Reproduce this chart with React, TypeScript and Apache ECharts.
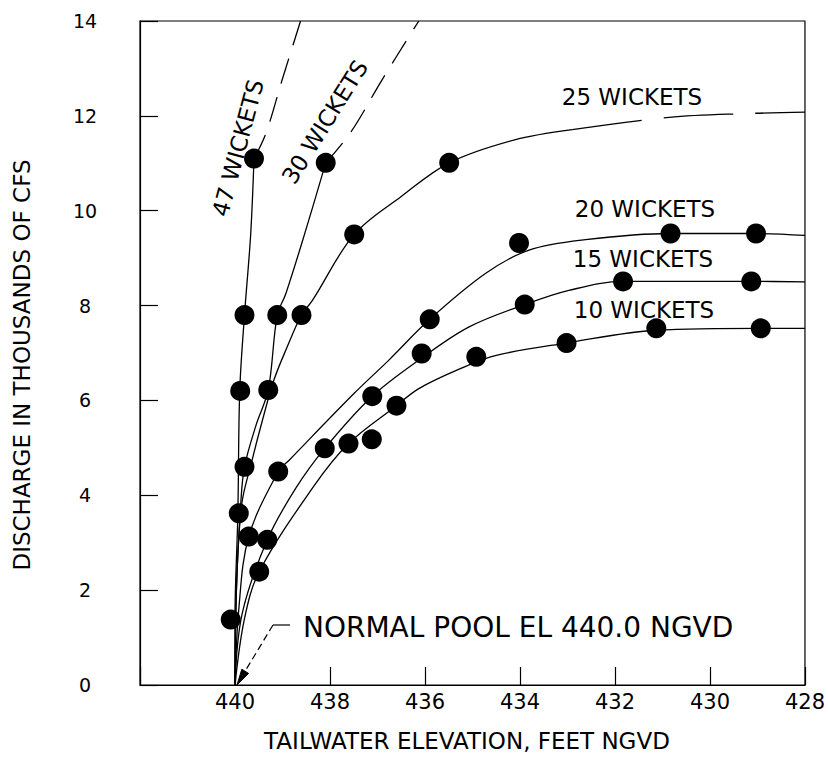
import React, { useEffect, useRef } from "react";
import * as echarts from "echarts";

// ---- observed points (tailwater elevation ft, discharge 1000 cfs) ----
const dots47 = [[440.09, 1.38], [439.92, 3.62], [439.89, 6.2], [439.8, 7.8], [439.6, 11.1]];
const dots30 = [[439.8, 4.6], [439.3, 6.22], [439.11, 7.8], [438.09, 11.01]];
const dots25 = [[438.6, 7.8], [437.49, 9.5], [435.49, 11.01]];
const dots20 = [[439.71, 3.13], [439.09, 4.5], [435.9, 7.71], [434.02, 9.32], [430.83, 9.52], [429.03, 9.52]];
const dots15 = [[439.32, 3.06], [438.11, 4.99], [437.11, 6.09], [436.07, 6.99], [433.9, 8.02], [431.83, 8.51], [429.13, 8.51]];
const dots10 = [[439.49, 2.39], [437.61, 5.09], [437.12, 5.18], [436.6, 5.89], [434.92, 6.92], [433.02, 7.21], [431.13, 7.52], [428.93, 7.52]];

// ---- fitted curves ----
const curve47 = [[440, 0], [440.0, 1.4], [439.94, 3.6], [439.9, 6.2], [439.8, 7.8], [439.67, 9.5], [439.6, 11.1]];
const curve47Dash = [[439.6, 11.1], [439.35, 11.63], [439.01, 12.75], [438.62, 14]];
const curve30 = [[440, 0], [439.97, 2], [439.88, 3.8], [439.8, 4.6], [439.55, 5.5], [439.3, 6.22], [439.11, 7.8], [438.93, 8.25], [438.51, 9.59], [438.09, 11.01]];
const curve30Dash = [[438.09, 11.01], [437.56, 11.66], [436.91, 12.75], [436.13, 14]];
const curve25 = [[440, 0], [439.97, 2], [439.86, 3.8], [439.64, 4.74], [439.46, 5.44], [439.18, 6.43], [438.9, 7.13], [438.6, 7.8], [438.37, 8.11], [437.49, 9.5], [436.5, 10.3], [435.49, 11.01], [434.13, 11.49], [432.9, 11.71]];
const curve25Dash = [[432.9, 11.71], [430.86, 11.97], [429.18, 12.05], [428, 12.08]];
const curve20 = [[440, 0], [439.92, 1.6], [439.71, 3.13], [439.09, 4.5], [438.86, 4.74], [437.49, 6.15], [436.76, 6.85], [435.9, 7.71], [434.72, 8.68], [433.81, 9.17], [432.62, 9.39], [430.83, 9.52], [429.03, 9.52], [428, 9.48]];
const curve15 = [[440, 0], [439.85, 1.5], [439.32, 3.06], [438.72, 4.15], [438.11, 4.99], [437.11, 6.09], [436.06, 6.9], [435.07, 7.55], [433.9, 8.02], [432.97, 8.32], [431.83, 8.51], [429.13, 8.51], [428, 8.5]];
const curve10 = [[440, 0], [439.8, 1.4], [439.49, 2.39], [438.37, 4.15], [437.61, 5.09], [436.6, 5.89], [436.13, 6.25], [435.28, 6.66], [434.5, 6.95], [433.02, 7.21], [431.13, 7.48], [428.93, 7.52], [428, 7.52]];

const xTickLabels = ["440", "438", "436", "434", "432", "430", "428"];

const FONT = '"DejaVu Sans", sans-serif';
const INK = "#000";

const groups = [
  { dots: dots47, solid: curve47, dashed: curve47Dash, dash: [26, 14] },
  { dots: dots30, solid: curve30, dashed: curve30Dash, dash: [26, 14] },
  { dots: dots25, solid: curve25, dashed: curve25Dash, dash: [70, 22] },
  { dots: dots20, solid: curve20, dashed: null, dash: null },
  { dots: dots15, solid: curve15, dashed: null, dash: null },
  { dots: dots10, solid: curve10, dashed: null, dash: null },
];

export default function App() {
  const ref = useRef<HTMLDivElement>(null);
  useEffect(() => {
    if (!ref.current) return;
    const chart = echarts.init(ref.current, null, { renderer: "svg" });
    const series: any[] = [];
    groups.forEach((g) => {
      series.push({
        type: "line",
        data: g.solid,
        smooth: 0.35,
        showSymbol: false,
        symbol: "none",
        lineStyle: { color: INK, width: 1.3 },
        z: 2,
      });
      if (g.dashed) {
        series.push({
          type: "line",
          data: g.dashed,
          smooth: 0.35,
          showSymbol: false,
          symbol: "none",
          lineStyle: { color: INK, width: 1.3, type: g.dash },
          z: 2,
        });
      }
      series.push({
        type: "scatter",
        data: g.dots,
        symbol: "circle",
        symbolSize: 20,
        itemStyle: { color: INK, opacity: 1 },
        z: 3,
      });
    });

    const txt = (text: string, x: number, y: number, size: number, rot = 0, align = "center") => ({
      type: "text",
      x,
      y,
      rotation: rot,
      style: {
        text,
        fontSize: size,
        fontFamily: FONT,
        fill: INK,
        align,
        verticalAlign: "middle",
      },
      z: 10,
    });

    chart.setOption({
      animation: false,
      backgroundColor: "#fff",
      grid: {
        left: 140,
        right: 23,
        top: 21,
        bottom: 72,
        show: true,
        borderColor: INK,
        borderWidth: 1.2,
        backgroundColor: "transparent",
      },
      xAxis: {
        type: "value",
        min: 428,
        max: 442,
        interval: 2,
        inverse: true,
        axisLine: { show: true, onZero: false, lineStyle: { color: INK, width: 1.2 } },
        axisTick: { show: true, inside: true, length: 18, lineStyle: { color: INK, width: 1.2 } },
        splitLine: { show: false },
        axisLabel: {
          color: INK,
          fontSize: 21,
          fontFamily: FONT,
          margin: 6,
          formatter: (v: number) => (xTickLabels.indexOf(String(v)) >= 0 ? String(v) : ""),
        },
      },
      yAxis: {
        type: "value",
        min: 0,
        max: 14,
        interval: 2,
        axisLine: { show: true, lineStyle: { color: INK, width: 1.2 } },
        axisTick: { show: true, inside: true, length: 18, lineStyle: { color: INK, width: 1.2 } },
        splitLine: { show: false },
        axisLabel: { color: INK, fontSize: 19, fontFamily: FONT, margin: 55, align: "center" },
      },
      graphic: [
        txt("TAILWATER ELEVATION, FEET NGVD", 467, 741, 23),
        txt("DISCHARGE IN THOUSANDS OF CFS", 22, 365, 23, Math.PI / 2),
        txt("47 WICKETS", 238, 148, 23, (75 * Math.PI) / 180),
        txt("30 WICKETS", 325, 122, 23, (58 * Math.PI) / 180),
        txt("25 WICKETS", 632, 97, 23),
        txt("20 WICKETS", 645, 209, 23),
        txt("15 WICKETS", 643, 259, 23),
        txt("10 WICKETS", 644, 310, 23),
        txt("NORMAL POOL EL 440.0 NGVD", 303, 627, 28, 0, "left"),
        {
          type: "polyline",
          shape: { points: [[290, 625], [273, 625]] },
          style: { stroke: INK, lineWidth: 1.2, fill: null },
          z: 10,
        },
        {
          type: "line",
          shape: { x1: 273, y1: 625, x2: 244, y2: 673 },
          style: { stroke: INK, lineWidth: 1.2, lineDash: [7, 4] },
          z: 10,
        },
        {
          type: "polygon",
          shape: { points: [[237, 685], [248.6, 673.4], [241.8, 669.2]] },
          style: { fill: INK, stroke: INK },
          z: 10,
        },
      ],
      series,
    });
    return () => chart.dispose();
  }, []);
  return (
    <div
      ref={ref}
      style={{ position: "fixed", left: 0, top: 0, width: 828, height: 757, background: "#fff" }}
    />
  );
}
